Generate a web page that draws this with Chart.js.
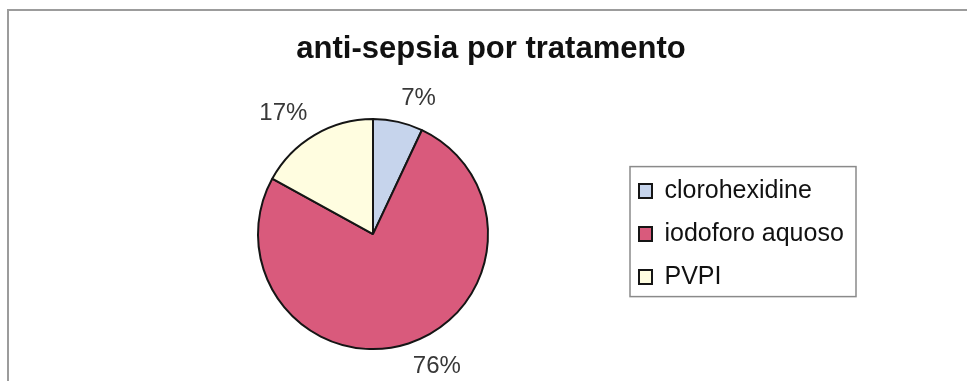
<!DOCTYPE html>
<html>
<head>
<meta charset="utf-8">
<title>anti-sepsia por tratamento</title>
<script src="https://cdn.jsdelivr.net/npm/chart.js@4.4.0/dist/chart.umd.min.js"></script>
<style>
  html, body { margin: 0; padding: 0; background: #fff; }
  #wrap { position: relative; width: 967px; height: 381px; overflow: hidden; }
  #frame {
    position: absolute; left: 7px; top: 9px; width: 1000px; height: 420px;
    border-left: 2px solid #9c9c9c; border-top: 2px solid #9c9c9c;
  }
  #chart { position: absolute; left: 0; top: 0; }
</style>
</head>
<body>
<div id="wrap">
  <div id="frame"></div>
  <canvas id="chart" width="967" height="381"></canvas>
</div>
<script>
const categories = ['clorohexidine', 'iodoforo aquoso', 'PVPI'];
const shares = [7, 76, 17];
const sliceColors = ['#c6d4ec', '#d95a7c', '#fffde0'];

const FONT = '"Liberation Sans", Arial, sans-serif';

// fixed-width right legend, centred on the plot area, with a box around it
const legendBox = {
  id: 'legendBox',
  beforeLayout(chart) {
    const legend = chart.legend;
    if (!legend || legend._fixedFit) return;
    const fit = legend.fit;
    legend.fit = function () {
      fit.call(this);
      this.width = 236;
    };
    legend._fixedFit = true;
  },
  afterLayout(chart) {
    const legend = chart.legend;
    legend.top = chart.chartArea.top;
    legend.bottom = chart.chartArea.bottom;
    legend.height = legend.bottom - legend.top;
    if (legend.adjustHitBoxes) legend.adjustHitBoxes();
  },
  afterDraw(chart) {
    const legend = chart.legend;
    const boxes = legend.legendHitBoxes;
    if (!boxes || !boxes.length) return;
    const last = boxes[boxes.length - 1];
    const top = boxes[0].top - 12;
    const bottom = last.top + last.height + 7;
    const left = legend.left + 9;
    const right = legend.right - 1;
    const ctx = chart.ctx;
    ctx.save();
    ctx.strokeStyle = '#8a8a8a';
    ctx.lineWidth = 1.5;
    ctx.strokeRect(left, top, right - left, bottom - top);
    ctx.restore();
  }
};

// percentage labels just outside each slice
const sliceLabels = {
  id: 'sliceLabels',
  afterDatasetsDraw(chart) {
    const ctx = chart.ctx;
    const arcs = chart.getDatasetMeta(0).data;
    const total = shares.reduce((a, b) => a + b, 0);
    ctx.save();
    ctx.font = '24px ' + FONT;
    ctx.fillStyle = '#383838';
    ctx.textAlign = 'center';
    ctx.textBaseline = 'middle';
    arcs.forEach((arc, i) => {
      const p = arc.getProps(['x', 'y', 'startAngle', 'endAngle', 'outerRadius'], true);
      const mid = (p.startAngle + p.endAngle) / 2;
      const text = Math.round(shares[i] / total * 100) + '%';
      const w = ctx.measureText(text).width;
      const h = 19;
      const r = p.outerRadius + 14;
      const lx = p.x + Math.cos(mid) * r + Math.sign(Math.cos(mid)) * w / 2;
      const ly = p.y + Math.sin(mid) * r + Math.sign(Math.sin(mid)) * h / 2;
      ctx.fillText(text, lx, ly);
    });
    ctx.restore();
  }
};

new Chart(document.getElementById('chart').getContext('2d'), {
  type: 'pie',
  data: {
    labels: categories,
    datasets: [{
      data: shares,
      backgroundColor: sliceColors,
      borderColor: '#151515',
      borderWidth: 2
    }]
  },
  options: {
    responsive: false,
    animation: false,
    radius: 115,
    layout: { padding: { left: 125, right: 110, top: 0, bottom: 3 } },
    plugins: {
      title: {
        display: true,
        text: 'anti-sepsia por tratamento',
        color: '#111',
        font: { family: FONT, size: 31, weight: 'bold', lineHeight: 1.2 },
        padding: { top: 31, bottom: 22 }
      },
      legend: {
        position: 'right',
        labels: {
          color: '#111',
          font: { family: FONT, size: 25 },
          boxWidth: 13,
          boxHeight: 14,
          padding: 18
        }
      },
      tooltip: { enabled: false }
    }
  },
  plugins: [legendBox, sliceLabels]
});
</script>
</body>
</html>
